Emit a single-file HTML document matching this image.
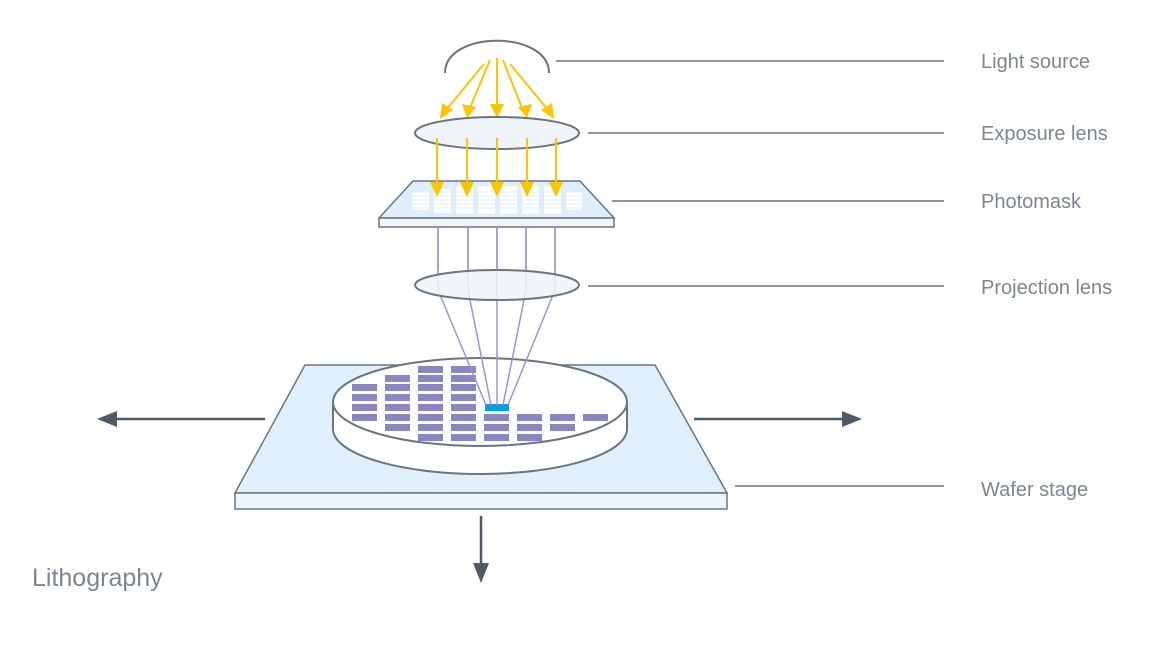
<!DOCTYPE html>
<html><head><meta charset="utf-8"><style>
html,body{margin:0;padding:0;background:#fff;width:1160px;height:659px;overflow:hidden}
text{font-family:"Liberation Sans",sans-serif;fill:#7b8690}
</style></head><body>
<svg width="1160" height="659" viewBox="0 0 1160 659" xmlns="http://www.w3.org/2000/svg">
<g stroke="#6a757e" stroke-width="1.5">
<line x1="556" y1="61" x2="944" y2="61"/>
<line x1="588" y1="133" x2="944" y2="133"/>
<line x1="612" y1="201" x2="944" y2="201"/>
<line x1="588" y1="286" x2="944" y2="286"/>
<line x1="735" y1="486" x2="944" y2="486"/>
</g>
<g font-size="20">
<text x="981" y="68">Light source</text>
<text x="981" y="140">Exposure lens</text>
<text x="981" y="208">Photomask</text>
<text x="981" y="294">Projection lens</text>
<text x="981" y="496">Wafer stage</text>
</g>
<text x="32" y="586" font-size="25">Lithography</text>
<path d="M445,73 C445,30 549,30 549,73" fill="none" stroke="#6a757e" stroke-width="2"/>
<g stroke="#ffc400" stroke-width="2" fill="#ffc400">
<line x1="484" y1="64" x2="446" y2="110"/>
<line x1="490" y1="60" x2="470" y2="108"/>
<line x1="497" y1="58" x2="497" y2="108"/>
<line x1="503" y1="60" x2="522" y2="108"/>
<line x1="510" y1="64" x2="548" y2="110"/>
</g>
<g fill="#ffc400">
<polygon points="440,119 442,103 453,110"/>
<polygon points="467,118 462,104 476,107"/>
<polygon points="497,118 490,104 504,104"/>
<polygon points="527,118 518,107 532,104"/>
<polygon points="554,119 541,110 552,103"/>
</g>
<ellipse cx="497" cy="133" rx="82" ry="16" fill="#eef4f8" stroke="#6a757e" stroke-width="2"/>
<polygon points="413,181 580,181 614,218 379,218" fill="#dfeefa" stroke="#6a757e" stroke-width="1.5"/>
<rect x="379" y="218" width="235" height="9" fill="#eef4f8" stroke="#6a757e" stroke-width="1.5"/>
<g fill="#fff">
<rect x="412" y="192" width="17" height="18"/><rect x="434" y="189" width="17" height="24"/>
<rect x="456" y="186" width="17" height="28"/><rect x="478" y="186" width="17" height="28"/>
<rect x="500" y="186" width="17" height="28"/><rect x="522" y="186" width="17" height="28"/>
<rect x="544" y="186" width="17" height="28"/><rect x="566" y="192" width="16" height="18"/>
</g>
<g stroke="#dfeefa" stroke-width="1">
<line x1="410" y1="196" x2="585" y2="196"/><line x1="410" y1="200" x2="585" y2="200"/>
<line x1="410" y1="204" x2="585" y2="204"/><line x1="410" y1="208" x2="585" y2="208"/>
<line x1="410" y1="192" x2="585" y2="192"/>
</g>
<g stroke="#ffc400" stroke-width="2">
<line x1="437" y1="138" x2="437" y2="185"/><line x1="467" y1="138" x2="467" y2="185"/>
<line x1="497" y1="138" x2="497" y2="185"/><line x1="527" y1="138" x2="527" y2="185"/>
<line x1="556" y1="138" x2="556" y2="185"/>
</g>
<g fill="#ffc400">
<polygon points="437,197 430,182 444,182"/><polygon points="467,197 460,182 474,182"/>
<polygon points="497,197 490,182 504,182"/><polygon points="527,197 520,182 534,182"/>
<polygon points="556,197 549,182 563,182"/>
</g>
<polygon points="305,365 655,365 727,493 235,493" fill="#dff0fc" stroke="#6a757e" stroke-width="1.5"/>
<rect x="235" y="493" width="492" height="16" fill="#eaf5fd" stroke="#6a757e" stroke-width="1.5"/>
<path d="M333,402 L333,429 A147,45 0 0 0 627,429 L627,402" fill="#fff" stroke="#6a757e" stroke-width="2"/>
<ellipse cx="480" cy="402" rx="147" ry="44" fill="#fff" stroke="#6a757e" stroke-width="2"/>
<g fill="#8a86c0">
<rect x="352" y="384" width="25" height="7"/><rect x="352" y="394" width="25" height="7"/><rect x="352" y="404" width="25" height="7"/><rect x="352" y="414" width="25" height="7"/>
<rect x="385" y="375" width="25" height="7"/><rect x="385" y="384" width="25" height="7"/><rect x="385" y="394" width="25" height="7"/><rect x="385" y="404" width="25" height="7"/><rect x="385" y="414" width="25" height="7"/><rect x="385" y="424" width="25" height="7"/>
<rect x="418" y="366" width="25" height="7"/><rect x="418" y="375" width="25" height="7"/><rect x="418" y="384" width="25" height="7"/><rect x="418" y="394" width="25" height="7"/><rect x="418" y="404" width="25" height="7"/><rect x="418" y="414" width="25" height="7"/><rect x="418" y="424" width="25" height="7"/><rect x="418" y="434" width="25" height="7"/>
<rect x="451" y="366" width="25" height="7"/><rect x="451" y="375" width="25" height="7"/><rect x="451" y="384" width="25" height="7"/><rect x="451" y="394" width="25" height="7"/><rect x="451" y="404" width="25" height="7"/><rect x="451" y="414" width="25" height="7"/><rect x="451" y="424" width="25" height="7"/><rect x="451" y="434" width="25" height="7"/>
<rect x="484" y="414" width="25" height="7"/><rect x="484" y="424" width="25" height="7"/><rect x="484" y="434" width="25" height="7"/>
<rect x="517" y="414" width="25" height="7"/><rect x="517" y="424" width="25" height="7"/><rect x="517" y="434" width="25" height="7"/>
<rect x="550" y="414" width="25" height="7"/><rect x="550" y="424" width="25" height="7"/>
<rect x="583" y="414" width="25" height="7"/>
</g>
<rect x="485" y="404" width="24" height="7" fill="#0a9ee0"/>
<g stroke="#9b95d0" stroke-width="1.5" fill="none">
<polyline points="438,227 438,290 486,405"/>
<polyline points="468,227 468,290 491,405"/>
<polyline points="497,227 497,405"/>
<polyline points="526,227 526,290 503,405"/>
<polyline points="555,227 555,290 508,405"/>
</g>
<ellipse cx="497" cy="285" rx="82" ry="15" fill="#eef4f8" fill-opacity="0.85" stroke="#6a757e" stroke-width="2"/>
<g stroke="#9b95d0" stroke-width="1.5"><line x1="438" y1="227" x2="438" y2="270"/><line x1="468" y1="227" x2="468" y2="270"/><line x1="497" y1="227" x2="497" y2="270"/><line x1="526" y1="227" x2="526" y2="270"/><line x1="555" y1="227" x2="555" y2="270"/></g>
<g stroke="#4f5b64" stroke-width="2.5">
<line x1="265" y1="419" x2="110" y2="419"/>
<line x1="694" y1="419" x2="850" y2="419"/>
<line x1="481" y1="516" x2="481" y2="570"/>
</g>
<g fill="#4f5b64">
<polygon points="97,419 117,411 117,427"/>
<polygon points="862,419 842,411 842,427"/>
<polygon points="481,583 473,563 489,563"/>
</g>
</svg>
</body></html>
